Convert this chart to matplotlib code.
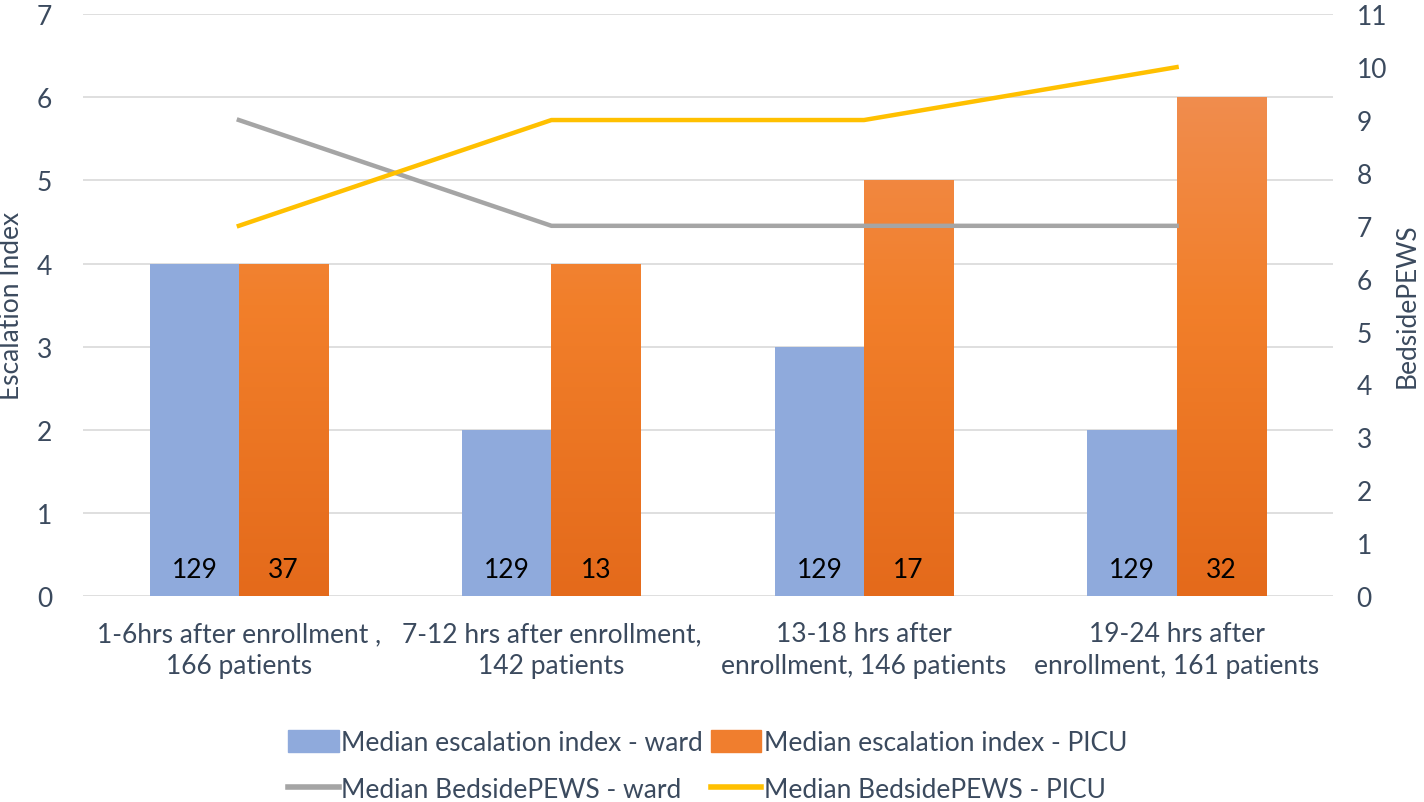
import numpy as np
import matplotlib
matplotlib.use("Agg")
import matplotlib.pyplot as plt
from matplotlib.colors import LinearSegmentedColormap
from matplotlib.lines import Line2D
from matplotlib.patches import Patch

plt.rcParams['font.family'] = ['Lato', 'DejaVu Sans']

categories = ["1-6hrs after enrollment ,\n166 patients",
              "7-12 hrs after enrollment,\n142 patients",
              "13-18 hrs after\nenrollment, 146 patients",
              "19-24 hrs after\nenrollment, 161 patients"]
esc_ward = [4, 2, 3, 2]
esc_picu = [4, 4, 5, 6]
pews_ward = [9, 7, 7, 7]
pews_picu = [7, 9, 9, 10]
n_ward = [129, 129, 129, 129]
n_picu = [37, 13, 17, 32]

txt = '#3B4A5E'
blue = '#8FAADC'
orange_cmap = LinearSegmentedColormap.from_list('og', ['#E46A1B', '#F27F2A', '#F0925C'])
fs = 19

fig = plt.figure(figsize=(14.24, 8.03), dpi=100)
ax = fig.add_axes([0.058, 0.2565, 0.878, 0.7245])
ax2 = ax.twinx()

x = np.arange(len(categories))
w = 0.285

ax.bar(x - w / 2, esc_ward, w, color=blue, zorder=2)
picu_bars = ax.bar(x + w / 2, esc_picu, w, color='none', zorder=2)
grad = np.linspace(0, 1, 256).reshape(-1, 1)
for b in picu_bars:
    x0 = b.get_x()
    im = ax.imshow(grad, cmap=orange_cmap, aspect='auto', origin='lower',
                   extent=[x0, x0 + b.get_width(), 0, 7], zorder=2)
    im.set_clip_path(b)

for i in range(len(x)):
    ax.text(x[i] - w / 2, 0.32, str(n_ward[i]), ha='center', va='center',
            fontsize=fs, color='black', zorder=3)
    ax.text(x[i] + w / 2, 0.32, str(n_picu[i]), ha='center', va='center',
            fontsize=fs, color='black', zorder=3)

ax.set_xlim(-0.5, 3.5)
ax.set_ylim(0, 7)
ax.set_yticks(range(0, 8))
ax.grid(axis='y', color='#D9D9D9', linewidth=1.2, zorder=0)
ax.set_axisbelow(True)
ax.set_xticks(x)
ax.set_xticklabels(categories, fontsize=fs, color=txt, linespacing=1.35)
ax.tick_params(axis='x', length=0, pad=18)
ax.tick_params(axis='y', length=0, labelsize=fs, labelcolor=txt, pad=22)
ax.set_ylabel("Escalation Index", fontsize=fs, color=txt)
ax.yaxis.set_label_coords(-0.047, 0.5)
for s in ax.spines.values():
    s.set_visible(False)

ax2.plot(x, pews_ward, color='#A5A5A5', linewidth=3.2, zorder=4)
ax2.plot(x, pews_picu, color='#FFC000', linewidth=3.2, zorder=4)
ax2.set_ylim(0, 11)
ax2.set_yticks(range(0, 12))
ax2.tick_params(axis='y', length=0, labelsize=fs, labelcolor=txt, pad=17)
ax2.set_ylabel("BedsidePEWS", fontsize=fs, color=txt)
ax2.yaxis.set_label_coords(1.049, 0.5)
for s in ax2.spines.values():
    s.set_visible(False)

handles = [Patch(color=blue), Patch(color='#F07E2E'),
           Line2D([], [], color='#A5A5A5', linewidth=4),
           Line2D([], [], color='#FFC000', linewidth=4)]
labels = ["Median escalation index - ward", "Median escalation index - PICU",
          "Median BedsidePEWS - ward", "Median BedsidePEWS - PICU"]
order = [0, 2, 1, 3]
fig.legend([handles[i] for i in order], [labels[i] for i in order],
           loc='lower center', bbox_to_anchor=(0.497, -0.030), ncol=2,
           frameon=False, fontsize=fs, labelcolor=txt, handlelength=1.9,
           handleheight=0.9, handletextpad=0.1, columnspacing=0.3,
           labelspacing=0.85)

fig.savefig("out.png", dpi=100)
